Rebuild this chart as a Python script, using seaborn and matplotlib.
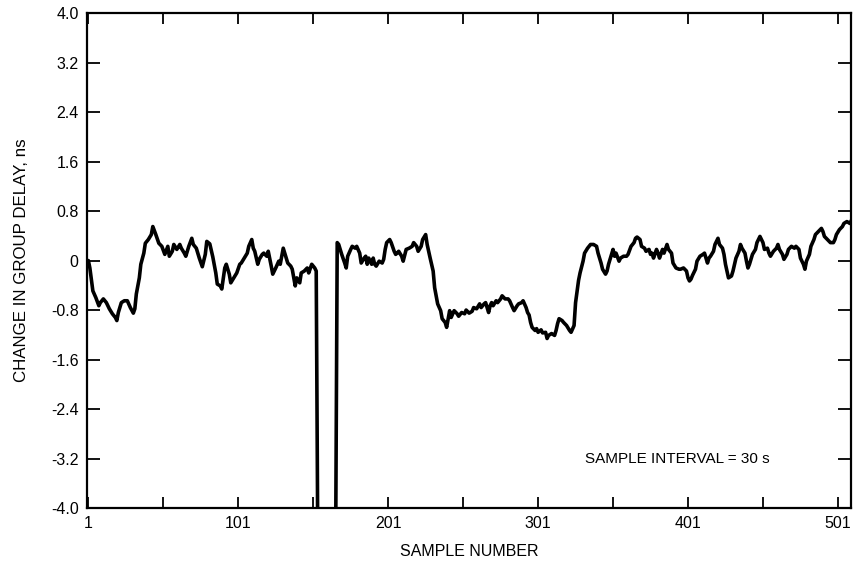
import matplotlib
matplotlib.use("Agg")
import matplotlib.pyplot as plt
import seaborn as sns
import pandas as pd

# ---- data ----
sample = [1, 2, 4, 6, 8, 9, 11, 13, 15, 17, 19, 20, 21, 23, 25, 27, 29, 31, 32, 33,
          35, 36, 38, 39, 41, 43, 44, 46, 48, 50, 52, 54, 55, 57, 58, 60, 62, 63, 65, 66,
          68, 70, 71, 73, 75, 77, 79, 80, 82, 84, 86, 87, 89, 90, 92, 93, 95, 96, 98, 100,
          102, 103, 105, 107, 108, 110, 111, 112, 114, 115, 117, 118, 120, 121, 123, 124, 126, 128, 129, 131,
          133, 134, 136, 137, 139, 140, 142, 143, 145, 147, 148, 150, 152, 153, 154,
          166, 167, 168, 170, 172, 173, 174, 176, 177, 179, 180, 182, 183, 185, 186, 187, 188, 190,
          191, 192, 193, 195, 197, 198, 199, 200, 202, 203, 205, 206, 207, 208, 210, 211, 213, 215,
          217, 218, 220, 221, 223, 224, 226, 227, 229, 231, 232, 234, 236, 237, 239, 240, 242, 243,
          245, 247, 248, 250, 252, 253, 255, 257, 258, 260, 262, 263, 265, 266, 268, 269, 270, 271,
          273, 274, 276, 277, 279, 281, 282, 284, 285, 287, 288, 290, 291, 293, 294, 295, 296, 297,
          299, 300, 301, 303, 304, 306, 307, 308, 310, 312, 313, 314, 315, 317, 318, 320, 322, 323,
          325, 326, 328, 329, 331, 332, 334, 336, 338, 340, 341, 343, 344, 346, 347, 348, 350, 351,
          352, 353, 355, 356, 358, 360, 361, 363, 365, 366, 367, 369, 370, 372, 373, 375, 376, 377,
          378, 380, 381, 382, 384, 385, 387, 388, 390, 391, 393, 395, 396, 398, 400, 401, 402, 403,
          404, 406, 407, 409, 411, 412, 414, 415, 416, 418, 419, 421, 422, 424, 425, 426, 428, 430,
          431, 433, 435, 436, 437, 439, 440, 441, 442, 444, 446, 447, 449, 451, 452, 454, 455, 456,
          458, 460, 461, 462, 464, 465, 467, 468, 470, 472, 473, 475, 476, 478, 479, 480, 482, 483,
          485, 486, 488, 490, 491, 492, 494, 496, 498, 499, 500, 502, 504, 505, 507, 509, 510]
delay = [0.0, -0.12, -0.49, -0.6, -0.73, -0.68, -0.62, -0.68, -0.78, -0.86, -0.92, -0.97, -0.84, -0.68, -0.65, -0.65, -0.76, -0.85, -0.78, -0.54,
         -0.28, -0.06, 0.12, 0.28, 0.34, 0.42, 0.55, 0.42, 0.28, 0.23, 0.1, 0.23, 0.07, 0.15, 0.26, 0.18, 0.26, 0.2, 0.12, 0.07,
         0.23, 0.36, 0.26, 0.2, 0.04, -0.1, 0.1, 0.31, 0.27, 0.06, -0.2, -0.38, -0.41, -0.46, -0.12, -0.06, -0.22, -0.36, -0.28, -0.2,
         -0.06, -0.04, 0.04, 0.12, 0.23, 0.34, 0.2, 0.15, -0.06, 0.02, 0.1, 0.12, 0.07, 0.15, -0.09, -0.22, -0.12, -0.01, -0.06, 0.2,
         0.04, -0.04, -0.09, -0.14, -0.41, -0.28, -0.36, -0.2, -0.17, -0.12, -0.2, -0.06, -0.12, -0.17, -4.4,
         -4.4, 0.29, 0.26, 0.1, -0.04, -0.12, 0.07, 0.18, 0.23, 0.2, 0.23, 0.12, -0.04, 0.04, 0.07, -0.06, 0.04, -0.06,
         0.04, -0.06, -0.09, -0.01, -0.04, 0.02, 0.18, 0.29, 0.34, 0.29, 0.15, 0.1, 0.12, 0.15, 0.07, -0.01, 0.18, 0.2,
         0.23, 0.29, 0.23, 0.15, 0.23, 0.34, 0.42, 0.26, 0.04, -0.17, -0.44, -0.7, -0.81, -0.94, -1.0, -1.08, -0.81, -0.92,
         -0.81, -0.86, -0.9, -0.84, -0.86, -0.8, -0.85, -0.82, -0.76, -0.78, -0.7, -0.76, -0.7, -0.68, -0.84, -0.73, -0.68, -0.73,
         -0.65, -0.68, -0.62, -0.57, -0.62, -0.62, -0.65, -0.76, -0.81, -0.73, -0.7, -0.68, -0.65, -0.76, -0.84, -0.88, -1.0, -1.08,
         -1.13, -1.1, -1.16, -1.12, -1.17, -1.16, -1.26, -1.21, -1.18, -1.21, -1.13, -1.02, -0.94, -0.97, -1.0, -1.05, -1.13, -1.16,
         -1.05, -0.68, -0.32, -0.2, -0.01, 0.12, 0.2, 0.26, 0.26, 0.23, 0.12, -0.04, -0.14, -0.22, -0.17, -0.06, 0.1, 0.18,
         0.07, 0.12, -0.01, 0.04, 0.07, 0.07, 0.1, 0.23, 0.29, 0.36, 0.38, 0.34, 0.23, 0.2, 0.15, 0.18, 0.1, 0.12,
         0.04, 0.18, 0.12, 0.04, 0.18, 0.12, 0.26, 0.18, 0.12, -0.04, -0.12, -0.14, -0.14, -0.12, -0.17, -0.28, -0.33, -0.3,
         -0.24, -0.14, -0.01, 0.07, 0.1, 0.12, -0.04, 0.04, 0.07, 0.15, 0.26, 0.36, 0.26, 0.2, 0.1, -0.06, -0.28, -0.25,
         -0.17, 0.04, 0.15, 0.26, 0.2, 0.12, -0.01, -0.12, -0.06, 0.1, 0.18, 0.29, 0.39, 0.29, 0.18, 0.2, 0.12, 0.07,
         0.15, 0.2, 0.26, 0.18, 0.1, 0.02, 0.1, 0.18, 0.23, 0.2, 0.23, 0.18, 0.04, -0.06, -0.14, -0.01, 0.1, 0.23,
         0.34, 0.42, 0.47, 0.52, 0.47, 0.39, 0.34, 0.29, 0.29, 0.34, 0.42, 0.5, 0.55, 0.6, 0.63, 0.6, 0.65]

x_major = [1, 101, 201, 301, 401, 501]
x_minor = [51, 151, 251, 351, 451]
y_ticks = [-4.0, -3.2, -2.4, -1.6, -0.8, 0, 0.8, 1.6, 2.4, 3.2, 4.0]
y_labels = ["-4.0", "-3.2", "-2.4", "-1.6", "-0.8", "0", "0.8", "1.6", "2.4", "3.2", "4.0"]

df = pd.DataFrame({"sample": sample, "delay": delay})

sns.set_theme(style="ticks")
plt.rcParams["font.family"] = ["Liberation Sans", "DejaVu Sans"]

fig = plt.figure(figsize=(8.6, 5.63), dpi=100)
ax = fig.add_axes([0.101, 0.0977, 0.889, 0.879])

sns.lineplot(data=df, x="sample", y="delay", ax=ax, color="black",
             linewidth=2.6, sort=False, estimator=None)

ax.set_xlim(0, 510)
ax.set_ylim(-4.0, 4.0)

ax.set_xticks(x_major)
ax.set_xticklabels([str(v) for v in x_major])
ax.set_xticks(x_minor, minor=True)
ax.set_yticks(y_ticks)
ax.set_yticklabels(y_labels)

ax.tick_params(axis="both", which="both", direction="in", color="black",
               labelsize=11.5, labelcolor="black", width=1.3)
ax.tick_params(axis="y", which="major", length=9.5, right=True, pad=6)
ax.tick_params(axis="x", which="major", length=8, top=True, pad=6)
ax.tick_params(axis="x", which="minor", length=8, top=True)

for s in ax.spines.values():
    s.set_linewidth(1.6)
    s.set_color("black")

ax.set_xlabel("SAMPLE NUMBER", fontsize=11.5, labelpad=9, color="black")
ax.set_ylabel("CHANGE IN GROUP DELAY, ns", fontsize=12.2, labelpad=16, color="black")

ax.text(332, -3.2, "SAMPLE INTERVAL = 30 s", fontsize=11, ha="left",
        va="center", color="black")

fig.savefig("out.png", dpi=100, facecolor="white")
